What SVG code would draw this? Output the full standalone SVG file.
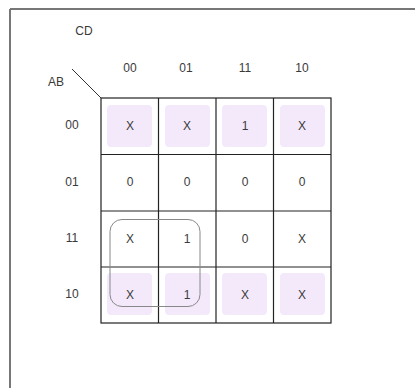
<svg xmlns="http://www.w3.org/2000/svg" width="415" height="388" viewBox="0 0 415 388">
<style>
text{font-family:"Liberation Sans",Arial,sans-serif;font-size:12px;fill:#3a3a3a;text-anchor:middle}
.sh{fill:#f3e9fb}
.g{stroke:#222;stroke-width:1.2;fill:none}
</style>
<rect width="415" height="388" fill="#fff"/>
<g id="frame">
<line x1="10" y1="9" x2="415" y2="9" stroke="#777" stroke-width="2"/>
<line x1="10" y1="9" x2="10" y2="388" stroke="#777" stroke-width="2"/>
</g>
<g id="labels">
<text x="84" y="35">CD</text>
<text x="56" y="86">AB</text>
<line x1="72" y1="69" x2="101" y2="98" stroke="#333" stroke-width="1"/>
<text x="130" y="72">00</text>
<text x="186" y="72">01</text>
<text x="245" y="72">11</text>
<text x="302" y="72">10</text>
<text x="72" y="129">00</text>
<text x="72" y="186">01</text>
<text x="72" y="242">11</text>
<text x="72" y="298">10</text>
</g>
<g id="shading">
<rect class="sh" x="107" y="105" width="45" height="42" rx="4"/>
<rect class="sh" x="165" y="105" width="45" height="42" rx="4"/>
<rect class="sh" x="222" y="105" width="45" height="42" rx="4"/>
<rect class="sh" x="280" y="105" width="45" height="42" rx="4"/>
<rect class="sh" x="107" y="273" width="45" height="42" rx="4"/>
<rect class="sh" x="165" y="273" width="45" height="42" rx="4"/>
<rect class="sh" x="222" y="273" width="45" height="42" rx="4"/>
<rect class="sh" x="280" y="273" width="45" height="42" rx="4"/>
</g>
<g id="grid">
<rect class="g" x="101" y="98" width="230" height="225"/>
<line class="g" x1="158.5" y1="98" x2="158.5" y2="323"/>
<line class="g" x1="216" y1="98" x2="216" y2="323"/>
<line class="g" x1="273.5" y1="98" x2="273.5" y2="323"/>
<line class="g" x1="101" y1="154.5" x2="331" y2="154.5"/>
<line class="g" x1="101" y1="211" x2="331" y2="211"/>
<line class="g" x1="101" y1="267" x2="331" y2="267"/>
</g>
<g id="cells">
<text x="130" y="130">X</text><text x="187" y="130">X</text><text x="245" y="130">1</text><text x="302" y="130">X</text>
<text x="130" y="186">0</text><text x="187" y="186">0</text><text x="245" y="186">0</text><text x="302" y="186">0</text>
<text x="130" y="243">X</text><text x="187" y="243">1</text><text x="245" y="243">0</text><text x="302" y="243">X</text>
<text x="130" y="299">X</text><text x="187" y="299">1</text><text x="245" y="299">X</text><text x="302" y="299">X</text>
</g>
<g id="connectors">
<rect x="110" y="219.5" width="90" height="87" rx="12" fill="none" stroke="#888" stroke-width="1"/>
</g>
</svg>
